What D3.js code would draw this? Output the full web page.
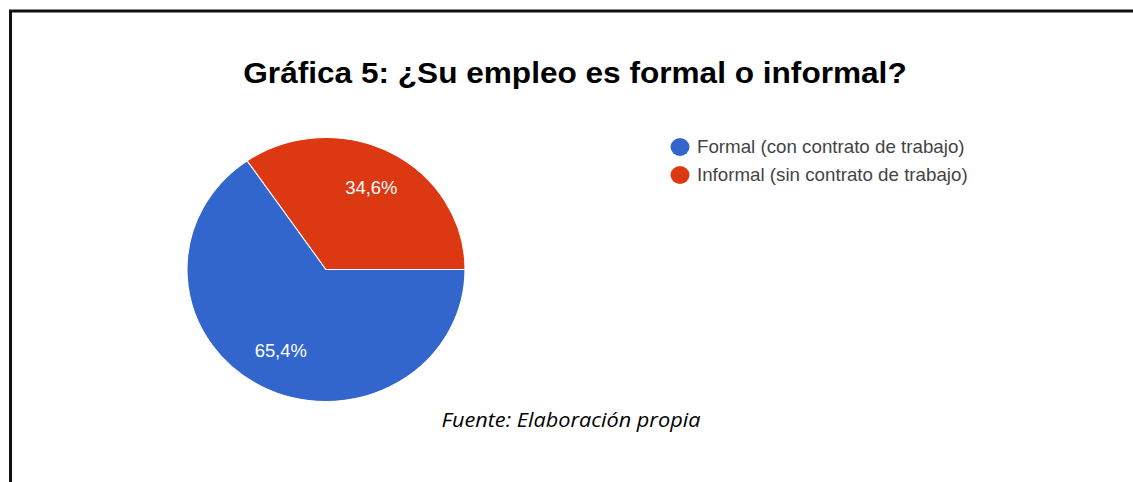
<!DOCTYPE html>
<html>
<head>
<meta charset="utf-8">
<script src="https://cdn.jsdelivr.net/npm/d3@7"></script>
<style>
  html, body { margin: 0; padding: 0; background: #fff; }
  svg { display: block; }
</style>
</head>
<body>
<svg id="chart"></svg>
<script>
const WIDTH = 1133;
const HEIGHT = 482;
// the source picture is a bit stretched sideways
const SX = 1.053;

// data
const categories = ["Formal (con contrato de trabajo)", "Informal (sin contrato de trabajo)"];
const values = [65.4, 34.6];
const sliceLabels = ["65,4%", "34,6%"];
const colors = ["#3366cc", "#dc3912"];

const TITLE = "Gráfica 5: ¿Su empleo es formal o informal?";
const SOURCE = "Fuente: Elaboración propia";

const CX = 326, CY = 269.5, RADIUS = 132;

const svg = d3.select("#chart").attr("width", WIDTH).attr("height", HEIGHT);

// frame (top + left edge, rest is cut off)
svg.append("path")
   .attr("d", `M10.5,${HEIGHT} V11 H${WIDTH}`)
   .attr("fill", "none")
   .attr("stroke", "#111")
   .attr("stroke-width", 3);

const root = svg.append("g").attr("transform", `scale(${SX},1)`);

root.append("text")
   .attr("x", 575 / SX)
   .attr("y", 83)
   .attr("text-anchor", "middle")
   .style("font-family", "Arial, 'Liberation Sans', sans-serif")
   .style("font-weight", "bold")
   .style("font-size", "30px")
   .attr("fill", "#000")
   .text(TITLE);

const data = categories.map((c, i) => ({ name: c, value: values[i], label: sliceLabels[i], color: colors[i] }));

const pie = d3.pie()
   .value(d => d.value)
   .sort(null)
   .startAngle(Math.PI / 2)
   .endAngle(Math.PI / 2 + 2 * Math.PI);

const arc = d3.arc().innerRadius(0).outerRadius(RADIUS);
const labelArc = d3.arc().innerRadius(RADIUS * 0.7).outerRadius(RADIUS * 0.7);

const g = root.append("g").attr("transform", `translate(${CX / SX},${CY})`);

g.selectAll("path")
   .data(pie(data))
   .enter()
   .append("path")
   .attr("d", arc)
   .attr("fill", d => d.data.color)
   .attr("stroke", "#fff")
   .attr("stroke-width", 1);

g.selectAll("text")
   .data(pie(data))
   .enter()
   .append("text")
   .attr("transform", d => `translate(${labelArc.centroid(d)})`)
   .attr("text-anchor", "middle")
   .attr("dy", "0.35em")
   .style("font-family", "Arial, 'Liberation Sans', sans-serif")
   .style("font-size", "17.5px")
   .attr("fill", "#fff")
   .text(d => d.data.label);

// legend
const legend = root.append("g").attr("transform", `translate(${680 / SX},147)`);
const items = legend.selectAll("g")
   .data(data)
   .enter()
   .append("g")
   .attr("transform", (_, i) => `translate(0,${i * 28})`);

items.append("circle")
   .attr("r", 9)
   .attr("fill", d => d.color);

items.append("text")
   .attr("x", 17 / SX)
   .attr("dy", "0.35em")
   .style("font-family", "Arial, 'Liberation Sans', sans-serif")
   .style("font-size", "17.8px")
   .attr("fill", "#444")
   .text(d => d.name);

root.append("text")
   .attr("x", 571 / SX)
   .attr("y", 427)
   .attr("text-anchor", "middle")
   .style("font-family", "'Open Sans', Lato, sans-serif")
   .style("font-style", "italic")
   .style("font-size", "20.6px")
   .attr("fill", "#000")
   .text(SOURCE);
</script>
</body>
</html>
